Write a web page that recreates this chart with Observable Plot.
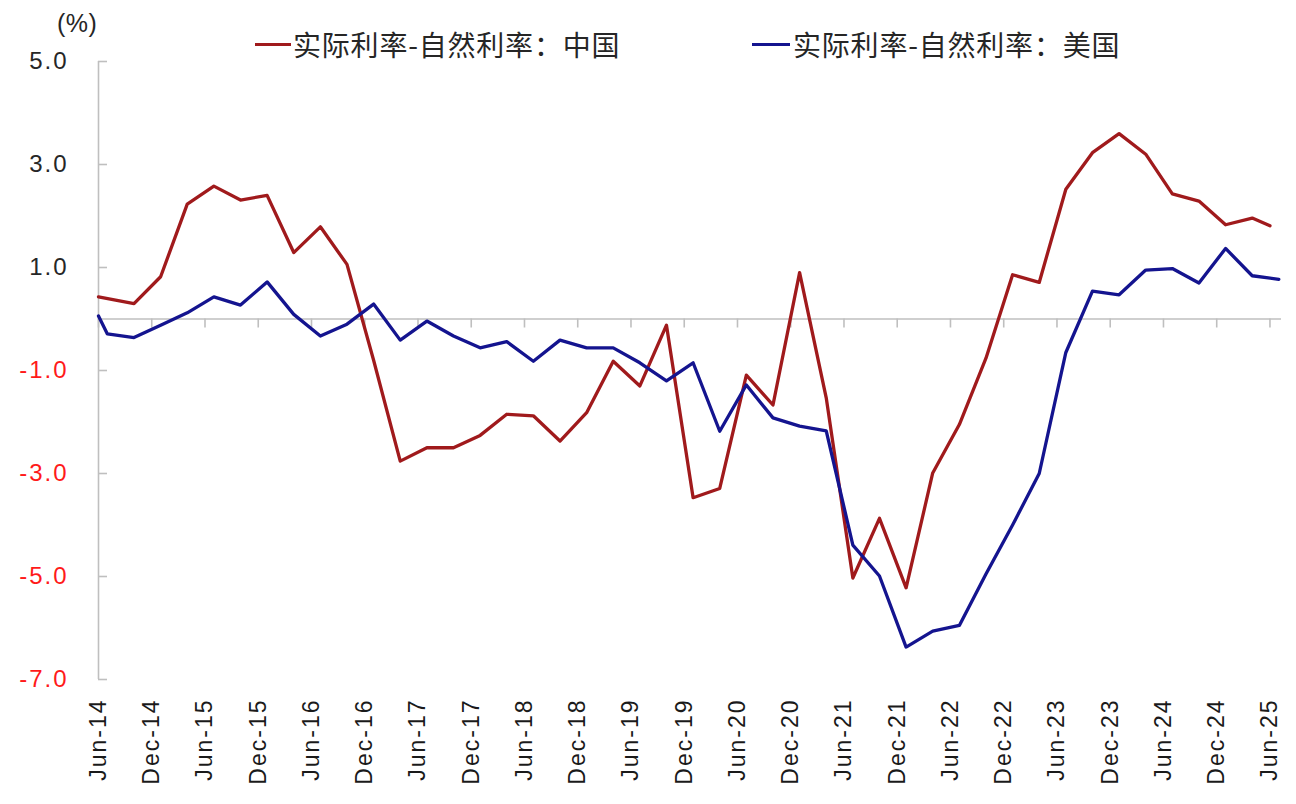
<!DOCTYPE html>
<html>
<head>
<meta charset="utf-8">
<script src="https://cdn.jsdelivr.net/npm/d3@7"></script>
<script src="https://cdn.jsdelivr.net/npm/@observablehq/plot@0.6"></script>
<style>
  body { margin: 0; background: #fff; }
  #wrap { position: relative; width: 1296px; }
  #head { position: relative; width: 1296px; height: 50px; font-family: "Liberation Sans", Arial, sans-serif; color: #262626; }
  .unit { position: absolute; left: 57px; top: 10px; font-size: 25px; line-height: 26px; letter-spacing: 0.5px; }
  .swatch { position: absolute; height: 3px; top: 43px; }
  .ltext { position: absolute; top: 30px; font-family: "Noto Sans CJK SC", sans-serif; font-size: 28px; line-height: 28px; letter-spacing: 0.8px; white-space: nowrap; }
</style>
</head>
<body>
<div id="wrap">
  <div id="head"></div>
  <div id="chart"></div>
</div>
<script>
// ---- data ----
const seriesNames = ["实际利率-自然利率：中国", "实际利率-自然利率：美国"];
const seriesColors = ["#a01a1c", "#14148f"];

const chinaDates = ["2014-06",
  "2014-10","2015-01","2015-04","2015-07","2015-10","2016-01","2016-04","2016-07","2016-10",
  "2017-01","2017-04","2017-07","2017-10","2018-01","2018-04","2018-07","2018-10",
  "2019-01","2019-04","2019-07","2019-10","2020-01","2020-04","2020-07","2020-10",
  "2021-01","2021-04","2021-07","2021-10","2022-01","2022-04","2022-07","2022-10",
  "2023-01","2023-04","2023-07","2023-10","2024-01","2024-04","2024-07","2024-10",
  "2025-01","2025-04","2025-06"];
const chinaValues = [0.43,
  0.30, 0.82, 2.23, 2.58, 2.31, 2.40, 1.29, 1.79, 1.06,
  -0.80, -2.76, -2.50, -2.50, -2.26, -1.85, -1.88, -2.37,
  -1.82, -0.82, -1.30, -0.12, -3.47, -3.29, -1.09, -1.67,
  0.90, -1.53, -5.03, -3.87, -5.22, -2.99, -2.05, -0.76,
  0.86, 0.71, 2.52, 3.23, 3.60, 3.20, 2.43, 2.29,
  1.83, 1.96, 1.81];

const usDates = ["2014-06","2014-07",
  "2014-10","2015-01","2015-04","2015-07","2015-10","2016-01","2016-04","2016-07","2016-10",
  "2017-01","2017-04","2017-07","2017-10","2018-01","2018-04","2018-07","2018-10",
  "2019-01","2019-04","2019-07","2019-10","2020-01","2020-04","2020-07","2020-10",
  "2021-01","2021-04","2021-07","2021-10","2022-01","2022-04","2022-07","2022-10",
  "2023-01","2023-04","2023-07","2023-10","2024-01","2024-04","2024-07","2024-10",
  "2025-01","2025-04","2025-07"];
const usValues = [0.06, -0.29,
  -0.36, -0.12, 0.12, 0.43, 0.27, 0.72, 0.09, -0.33, -0.10,
  0.29, -0.41, -0.04, -0.33, -0.56, -0.44, -0.82, -0.41,
  -0.56, -0.56, -0.85, -1.20, -0.85, -2.18, -1.28, -1.92,
  -2.08, -2.17, -4.39, -4.99, -6.37, -6.06, -5.95, -4.95,
  -4.00, -3.00, -0.65, 0.54, 0.47, 0.95, 0.98, 0.70,
  1.37, 0.84, 0.77];

const xTickLabels = ["Jun-14","Dec-14","Jun-15","Dec-15","Jun-16","Dec-16","Jun-17","Dec-17",
  "Jun-18","Dec-18","Jun-19","Dec-19","Jun-20","Dec-20","Jun-21","Dec-21","Jun-22","Dec-22",
  "Jun-23","Dec-23","Jun-24","Dec-24","Jun-25"];
const yTicksPos = [5, 3, 1];
const yTicksNeg = [-1, -3, -5, -7];
const unitLabel = "(%)";

// ---- helpers ----
const monthIndex = s => { const [y, m] = s.split("-").map(Number); return (y - 2014) * 12 + (m - 6); };
const xTicks = xTickLabels.map((d, i) => i * 6);
const china = chinaDates.map((d, i) => ({m: monthIndex(d), v: chinaValues[i]}));
const us = usDates.map((d, i) => ({m: monthIndex(d), v: usValues[i]}));

// ---- header (unit + legend) ----
const head = document.getElementById("head");
const unit = document.createElement("div");
unit.className = "unit"; unit.textContent = unitLabel; head.appendChild(unit);
const legendPos = [{sw: 255, w: 36, tx: 293}, {sw: 752, w: 38, tx: 793}];
seriesNames.forEach((name, i) => {
  const s = document.createElement("div");
  s.className = "swatch";
  s.style.left = legendPos[i].sw + "px"; s.style.width = legendPos[i].w + "px";
  s.style.background = seriesColors[i];
  head.appendChild(s);
  const t = document.createElement("div");
  t.className = "ltext"; t.style.left = legendPos[i].tx + "px"; t.textContent = name;
  head.appendChild(t);
});

// ---- chart ----
const axisColor = "#bfbfbf";
const chart = Plot.plot({
  width: 1296,
  height: 754,
  marginLeft: 98,
  marginRight: 15,
  marginTop: 11,
  marginBottom: 125,
  x: {type: "linear", domain: [0, 133.3]},
  y: {domain: [-7, 5]},
  style: {fontFamily: "'Liberation Sans', Arial, sans-serif", fontSize: "23px", letterSpacing: "2px", background: "white", overflow: "visible"},
  marks: [
    Plot.ruleX([0], {stroke: axisColor, strokeWidth: 1.6}),
    Plot.ruleY([...yTicksPos, ...yTicksNeg], {y: d => d, x1: 0, x2: 0, insetRight: -9, stroke: axisColor, strokeWidth: 1.6}),
    Plot.ruleY([0], {stroke: axisColor, strokeWidth: 1.6}),
    Plot.ruleX(xTicks, {x: d => d, y1: 0, y2: 0, insetBottom: -9, stroke: axisColor, strokeWidth: 1.6}),
    Plot.line(china, {x: "m", y: "v", stroke: seriesColors[0], strokeWidth: 3.3}),
    Plot.line(us, {x: "m", y: "v", stroke: seriesColors[1], strokeWidth: 3.3}),
    Plot.axisY(yTicksPos, {tickSize: 0, tickPadding: 30, tickFormat: d => d.toFixed(1), fill: "#262626", fontSize: 24, label: null}),
    Plot.axisY(yTicksNeg, {tickSize: 0, tickPadding: 30, tickFormat: d => d.toFixed(1), fill: "#ff1a1a", fontSize: 24, label: null}),
    Plot.axisX(xTicks, {tickSize: 0, tickPadding: 19, tickRotate: -90, tickFormat: d => xTickLabels[d / 6], fill: "#1a1a1a", label: null})
  ]
});
document.getElementById("chart").appendChild(chart);
</script>
</body>
</html>
